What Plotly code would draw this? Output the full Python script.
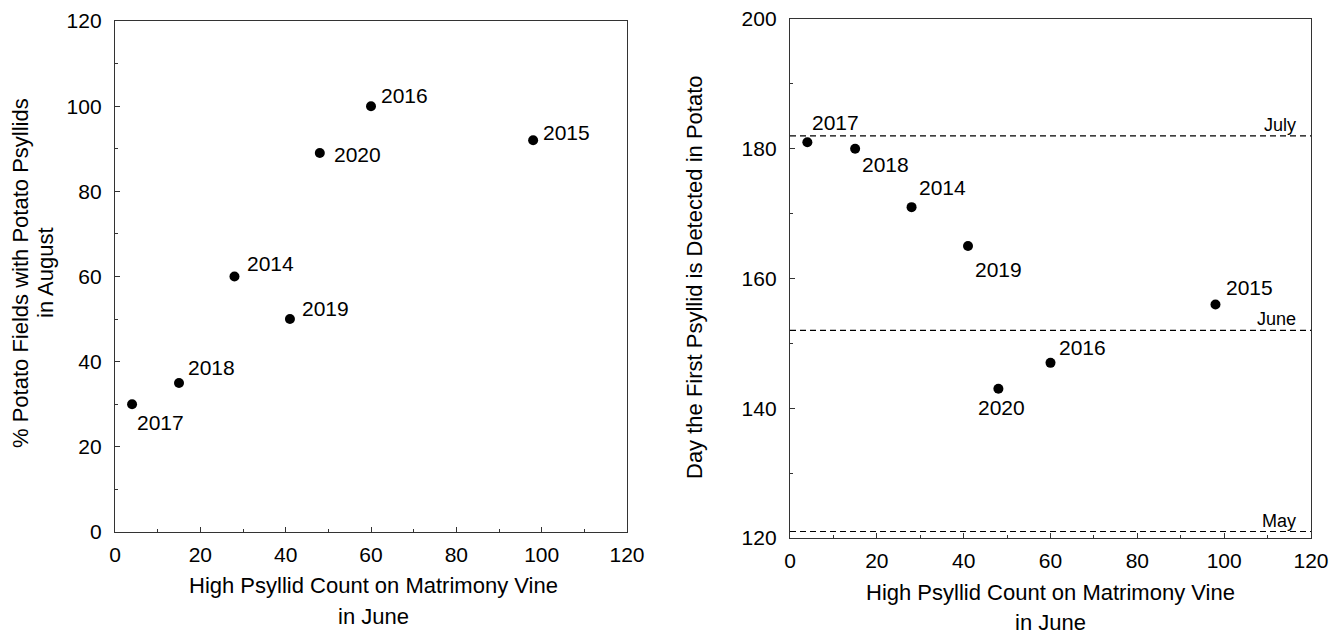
import plotly.graph_objects as go

years = ["2014", "2015", "2016", "2017", "2018", "2019", "2020"]
psyllid_count = [28, 98, 60, 4, 15, 41, 48]
pct_fields = [60, 92, 100, 30, 35, 50, 89]
first_day = [171, 156, 147, 181, 180, 165, 143]

month_names = ["July", "June", "May"]
month_days = [182, 152, 121]

x_ticks = [0, 20, 40, 60, 80, 100, 120]
y1_ticks = [0, 20, 40, 60, 80, 100, 120]
y2_ticks = [120, 140, 160, 180, 200]

# label offsets (px) for each year on each panel: (xshift, yshift, xanchor)
left_offsets = {"2014": (11, 13, "left"), "2015": (8, 8, "left"), "2016": (8, 11, "left"),
                "2017": (3, -18, "left"), "2018": (7, 15, "left"), "2019": (10, 11, "left"),
                "2020": (12, -1, "left")}
right_offsets = {"2014": (5, 20, "left"), "2015": (9, 17, "left"), "2016": (6, 15, "left"),
                 "2017": (3, 20, "left"), "2018": (5, -16, "left"), "2019": (5, -23, "left"),
                 "2020": (3, -19, "center")}

FONT = "Liberation Sans, Arial, sans-serif"
# the page body has an 8px margin, so the figure is placed 8px in from the window edge
OFF = 8
W, H = 1343, 635


def px(v):
    return (v - OFF) / W


def py(v):
    return 1 - (v - OFF) / H


fig = go.Figure()
fig.add_trace(go.Scatter(x=psyllid_count, y=pct_fields, mode="markers",
                         marker=dict(color="black", size=10), xaxis="x", yaxis="y",
                         showlegend=False, hoverinfo="skip"))
fig.add_trace(go.Scatter(x=psyllid_count, y=first_day, mode="markers",
                         marker=dict(color="black", size=10), xaxis="x2", yaxis="y2",
                         showlegend=False, hoverinfo="skip"))

annotations = []
for yr, xv, yv in zip(years, psyllid_count, pct_fields):
    dx, dy, anc = left_offsets[yr]
    annotations.append(dict(x=xv, y=yv, xref="x", yref="y", text=yr, showarrow=False,
                            xanchor=anc, yanchor="middle", xshift=dx, yshift=dy,
                            font=dict(size=21, color="black", family=FONT)))
for yr, xv, yv in zip(years, psyllid_count, first_day):
    dx, dy, anc = right_offsets[yr]
    annotations.append(dict(x=xv, y=yv, xref="x2", yref="y2", text=yr, showarrow=False,
                            xanchor=anc, yanchor="middle", xshift=dx, yshift=dy,
                            font=dict(size=21, color="black", family=FONT)))

shapes = []
for name, d in zip(month_names, month_days):
    shapes.append(dict(type="line", xref="x2 domain", yref="y2", x0=0, x1=1, y0=d, y1=d,
                       line=dict(color="black", width=1.2, dash="6px,4px")))
    annotations.append(dict(x=0.976, y=d, xref="x2 domain", yref="y2", text=name,
                            showarrow=False, xanchor="right", yanchor="bottom", yshift=-1,
                            font=dict(size=18, color="black", family=FONT)))


def title_ann(text, x, y, angle=0):
    return dict(x=px(x), y=py(y), xref="paper", yref="paper", text=text,
                showarrow=False, xanchor="center", yanchor="middle", textangle=angle,
                font=dict(size=22, color="black", family=FONT))


annotations += [
    title_ann("High Psyllid Count on Matrimony Vine", 373, 585),
    title_ann("in June", 373, 616),
    title_ann("High Psyllid Count on Matrimony Vine", 1050, 592),
    title_ann("in June", 1050, 622),
    title_ann("% Potato Fields with Potato Psyllids", 21, 273, -90),
    title_ann("in August", 46, 273, -90),
    title_ann("Day the First Psyllid is Detected in Potato", 694, 277, -90),
]

axis_common = dict(showgrid=False, zeroline=False, showline=True, linecolor="#333",
                   linewidth=1.3, mirror=True, ticks="inside", ticklen=5, tickcolor="#333",
                   automargin=False, ticklabeloverflow="allow",
                   tickfont=dict(size=21, color="black", family=FONT))
minor = dict(ticks="inside", ticklen=3, dtick=10, tickcolor="#333")

fig.update_layout(
    width=W, height=H,
    margin=dict(l=0, r=0, t=0, b=0),
    paper_bgcolor="white", plot_bgcolor="white",
    xaxis=dict(domain=[px(115), px(627)], range=[0, 120], tickvals=x_ticks, minor=minor,
               ticklabelstandoff=4, anchor="y", **axis_common),
    yaxis=dict(domain=[py(532), py(21)], range=[0, 120], tickvals=y1_ticks, minor=minor,
               ticklabelstandoff=8, anchor="x", **axis_common),
    xaxis2=dict(domain=[px(790), px(1311)], range=[0, 120], tickvals=x_ticks, minor=minor,
                ticklabelstandoff=4, anchor="y2", **axis_common),
    yaxis2=dict(domain=[py(538), py(19)], range=[120, 200], tickvals=y2_ticks, minor=minor,
                ticklabelstandoff=8, anchor="x2", **axis_common),
    annotations=annotations,
    shapes=shapes,
)

fig.write_html("out.html")
